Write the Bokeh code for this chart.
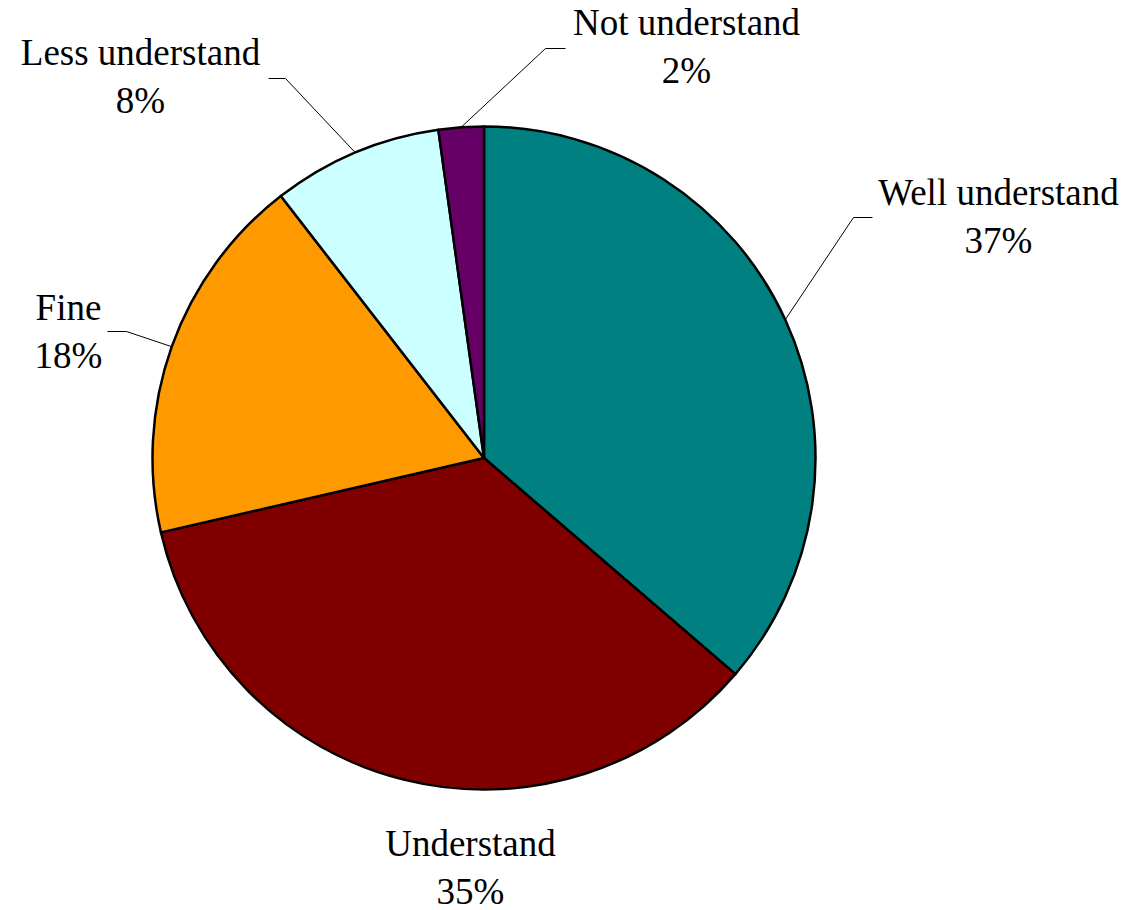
import numpy as np
from bokeh.plotting import figure
from bokeh.models import Range1d, ColumnDataSource
from bokeh.core.properties import value
from bokeh.embed import file_html
from bokeh.resources import INLINE

# ---- data ----
categories = ["Well understand", "Understand", "Fine", "Less understand", "Not understand"]
shares = [36.3, 35.1, 18.1, 8.3, 2.2]
pct_labels = ["37%", "35%", "18%", "8%", "2%"]
colors = ["#008080", "#800000", "#FF9900", "#CCFFFF", "#660066"]

# ---- layout (screen pixels of the page) ----
W, H = 1126, 910
OFF = 0
def sx(x):
    return x - OFF
def sy(y):
    return (OFF + H) - y

CX, CY, R = 483.5, 457.5, 331.5
# label centre x, first baseline y (screen), and leader elbow/end (screen) or None
label_pos = [(998, 205), (470, 856), (68, 320), (140, 65), (686, 35)]
leaders = [((853, 217), (872, 217)), None, ((126, 331), (107, 331)),
           ((285, 78), (268, 78)), ((545, 48), (565, 48))]
LINE_GAP = 48
BASE_SHIFT = 13  # renderer places alphabetic baseline lower; compensate

vals = np.array(shares, dtype=float)
frac = vals / vals.sum()
cum = np.concatenate([[0.0], np.cumsum(frac)])
start = np.pi / 2 - 2 * np.pi * cum[:-1]
end = np.pi / 2 - 2 * np.pi * cum[1:]
mid = (start + end) / 2

p = figure(width=W, height=H, output_backend="svg", toolbar_location=None,
           x_range=Range1d(0, W), y_range=Range1d(0, H),
           x_axis_location=None, y_axis_location=None, min_border=0)
p.grid.visible = False
p.outline_line_color = None
p.background_fill_color = "white"
p.border_fill_color = "white"

src = ColumnDataSource(dict(start=start, end=end, color=colors, cat=categories))
p.wedge(x=sx(CX), y=sy(CY), radius=R, start_angle="start", end_angle="end",
        direction="clock", fill_color="color", line_color="black",
        line_width=2.5, line_join="round", source=src)

# leader lines
for i, ld in enumerate(leaders):
    if ld is None:
        continue
    ex = sx(CX) + R * np.cos(mid[i])
    ey = sy(CY) + R * np.sin(mid[i])
    (bx, by), (tx, ty) = ld
    p.line(x=[ex, sx(bx), sx(tx)], y=[ey, sy(by), sy(ty)], line_color="black", line_width=1)

# labels
x1 = [sx(lp[0]) for lp in label_pos]
y1 = [sy(lp[1] - BASE_SHIFT) for lp in label_pos]
y2 = [sy(lp[1] - BASE_SHIFT + LINE_GAP) for lp in label_pos]
common = dict(text_font=value("Liberation Serif"), text_font_size="37px",
              text_align="center", text_baseline="alphabetic", text_color="black")
p.text(x=x1, y=y1, text=categories, **common)
p.text(x=x1, y=y2, text=pct_labels, **common)

open("out.html", "w").write(file_html(p, INLINE))
